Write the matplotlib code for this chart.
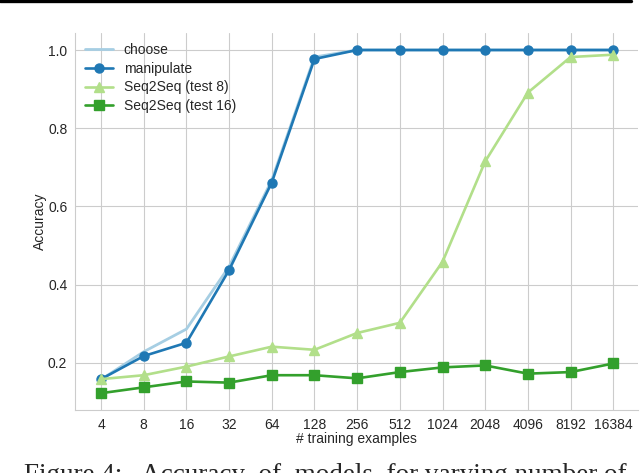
import matplotlib
matplotlib.use("Agg")
import matplotlib.pyplot as plt
import seaborn as sns
from matplotlib.lines import Line2D

# Data
train_sizes = ["4", "8", "16", "32", "64", "128", "256", "512",
               "1024", "2048", "4096", "8192", "16384"]
choose = [0.157, 0.228, 0.286, 0.446, 0.667, 0.982, 1.0, 1.0, 1.0, 1.0, 1.0, 1.0, 1.0]
manipulate = [0.158, 0.217, 0.251, 0.437, 0.661, 0.977, 1.0, 1.0, 1.0, 1.0, 1.0, 1.0, 1.0]
seq2seq_8 = [0.158, 0.168, 0.19, 0.216, 0.241, 0.233, 0.276, 0.302,
             0.458, 0.715, 0.891, 0.982, 0.988]
seq2seq_16 = [0.122, 0.137, 0.152, 0.149, 0.168, 0.168, 0.16, 0.176,
              0.188, 0.193, 0.172, 0.176, 0.198]

sns.set_style("whitegrid")
plt.rcParams["font.family"] = ["Liberation Sans", "DejaVu Sans"]

fig = plt.figure(figsize=(6.4, 4.73), dpi=100)
ax = fig.add_axes([75 / 640, 63 / 473, 563 / 640, 377 / 473])

x = list(range(len(train_sizes)))
ax.plot(x, choose, color="#a6cee3", lw=2, label="choose")
ax.plot(x, manipulate, color="#1f78b4", lw=1.9, marker="o", ms=6.5, label="manipulate")
ax.plot(x, seq2seq_8, color="#b2df8a", lw=1.9, marker="^", ms=6.5, label="Seq2Seq (test 8)")
ax.plot(x, seq2seq_16, color="#33a02c", lw=1.9, marker="s", ms=6.5, label="Seq2Seq (test 16)")

ax.set_xticks(x)
ax.set_xticklabels(train_sizes)
ax.set_yticks([0.2, 0.4, 0.6, 0.8, 1.0])
ax.set_xlim(-0.61, 12.58)
ax.set_ylim(0.079, 1.0435)
ax.tick_params(axis="y", labelsize=10, colors="#262626", pad=2)
ax.tick_params(axis="x", labelsize=10, colors="#262626", pad=2)
ax.set_xlabel("# training examples", fontsize=10, color="#262626", labelpad=0)
ax.set_ylabel("Accuracy", fontsize=10, color="#262626", labelpad=1)
ax.spines["top"].set_visible(False)
ax.spines["right"].set_visible(False)
for s in ["left", "bottom"]:
    ax.spines[s].set_color("#cccccc")

ax.legend(loc="upper left", frameon=False, fontsize=10, handlelength=2.0,
          borderaxespad=0.3, labelspacing=0.35)

# paper rule at top and cut-off caption
fig.add_artist(Line2D([0, 631 / 640], [1 - 1.5 / 473, 1 - 1.5 / 473],
                      color="black", lw=2.4))
fig.text(24 / 640, -9 / 473, "Figure 4:   Accuracy  of  models  for varying number of",
         fontsize=19.5, family="Liberation Serif", va="baseline", ha="left")

fig.savefig("out.png", dpi=100)
